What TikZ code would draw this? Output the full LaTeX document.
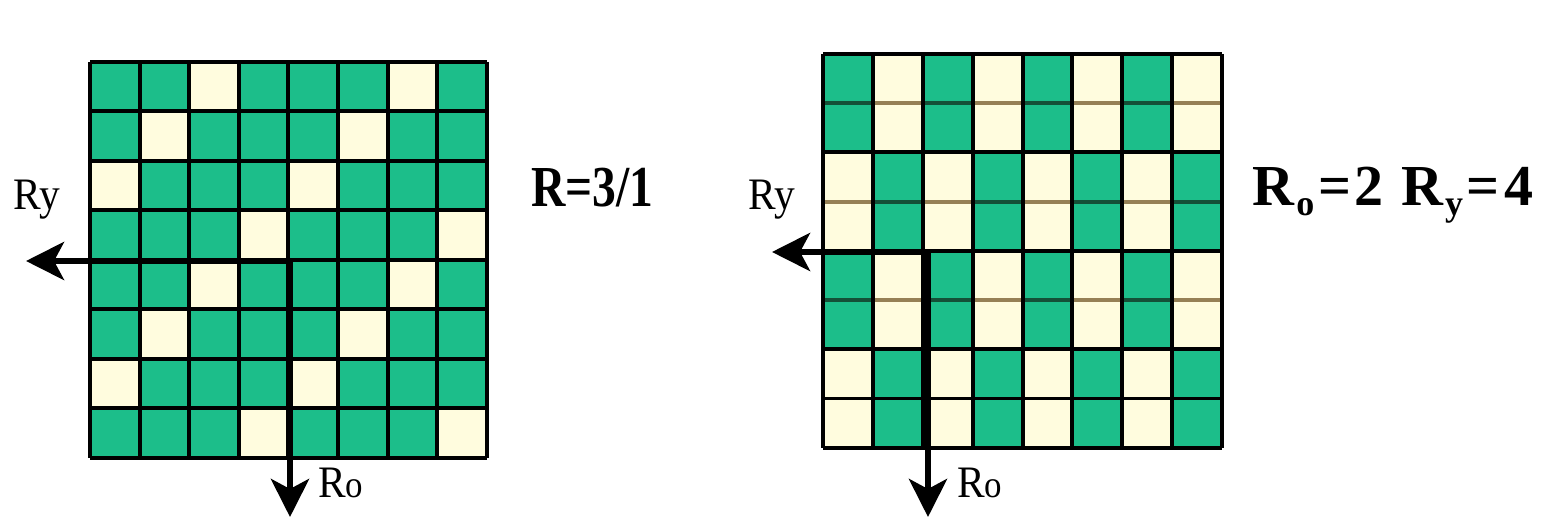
\documentclass[tikz,border=0pt]{standalone}
\usepackage{fontspec}
\setmainfont{Liberation Serif}
\usetikzlibrary{arrows.meta}
\definecolor{cellgreen}{RGB}{28,190,138}
\definecolor{cellcream}{RGB}{255,252,222}
\definecolor{pairbrown}{RGB}{150,128,85}
\definecolor{pairdark}{RGB}{20,80,55}
\tikzset{
  gridline/.style={line width=2pt, black},
  softcream/.style={line width=1.8pt, pairbrown},
  softgreen/.style={line width=1.8pt, pairdark},
  axis/.style={line width=3pt, black, -{Stealth[length=19pt,width=19pt,inset=5pt]}},
  lbl/.style={inner sep=0pt, anchor=base west, font=\fontsize{22.5}{27}\selectfont, xscale=0.92},
  blbl/.style={inner sep=0pt, anchor=base west, font=\fontsize{29}{34}\selectfont\bfseries},
}
\newcommand{\subtxt}[1]{{\fontsize{18}{20}\selectfont\raisebox{-5pt}{#1}}}
\begin{document}
\begin{tikzpicture}[x=0.5pt,y=-0.5pt]
\useasboundingbox (0,0) rectangle (1547,517);
\fill[white] (0,0) rectangle (1547,517);
% ---------- left grid ----------
\begin{scope}[shift={(90,62)}, x=0.5pt*49.6, y=-0.5pt*49.5]
  \fill[cellgreen] (0,0) rectangle (8,8);
  \foreach \r/\a/\b in {0/2/6,1/1/5,2/0/4,3/3/7,4/2/6,5/1/5,6/0/4,7/3/7}{
    \fill[cellcream] (\a,\r) rectangle ++(1,1);
    \fill[cellcream] (\b,\r) rectangle ++(1,1);
  }
  \foreach \i in {0,...,8}{
    \draw[gridline] (\i,0) -- (\i,8);
    \draw[gridline] (0,\i) -- (8,\i);
  }
\end{scope}
% ---------- right grid ----------
\begin{scope}[shift={(823,54)}, x=0.5pt*49.875, y=-0.5pt*49.25]
  \fill[cellgreen] (0,0) rectangle (8,8);
  \foreach \r in {0,1,4,5}{
    \foreach \c in {1,3,5,7}{\fill[cellcream] (\c,\r) rectangle ++(1,1);}
  }
  \foreach \r in {2,3,6,7}{
    \foreach \c in {0,2,4,6}{\fill[cellcream] (\c,\r) rectangle ++(1,1);}
  }
  % thin lines inside each pair of rows
  \foreach \i in {1,5}{
    \foreach \c in {1,3,5,7}{\draw[softcream] (\c,\i) -- ++(1,0);}
    \foreach \c in {0,2,4,6}{\draw[softgreen] (\c,\i) -- ++(1,0);}
  }
  \foreach \c in {0,2,4,6}{\draw[softcream] (\c,3) -- ++(1,0);}
  \foreach \c in {1,3,5,7}{\draw[softgreen] (\c,3) -- ++(1,0);}
  \draw[gridline, line width=1.7pt] (0,7) -- (8,7);
  \foreach \i in {0,...,8}{\draw[gridline] (\i,0) -- (\i,8);}
  \foreach \i in {0,2,4,6,8}{\draw[gridline] (0,\i) -- (8,\i);}
\end{scope}
% ---------- axes ----------
\coordinate (LO) at (290,261);
\coordinate (LX) at (26,261);
\coordinate (LY) at (290,517);
\draw[axis] (LO) -- (LX);
\draw[axis] (LO) -- (LY);
\coordinate (RO) at (928,252);
\coordinate (RX) at (772,252);
\coordinate (RY) at (928,517);
\draw[axis] (RO) -- (RX);
\draw[axis] (RO) -- (RY);
% ---------- labels ----------
\node[lbl] (lry) at (13,210) {Ry};
\node[lbl] (lro) at (318,498) {R{\fontsize{19}{22}\selectfont o}};
\node[blbl, xscale=0.82] (lr) at (531,207) {R=3/1};
\node[lbl] (rry) at (748,210) {Ry};
\node[lbl] (rro) at (957,498) {R{\fontsize{19}{22}\selectfont o}};
\node[blbl] (rr) at (1252,206) {R\kern1pt\subtxt{o}\kern2pt=\kern1.5pt2\hspace{9pt}R\kern1pt\subtxt{y}\kern1.5pt=\kern2.5pt4};
\end{tikzpicture}
\end{document}
